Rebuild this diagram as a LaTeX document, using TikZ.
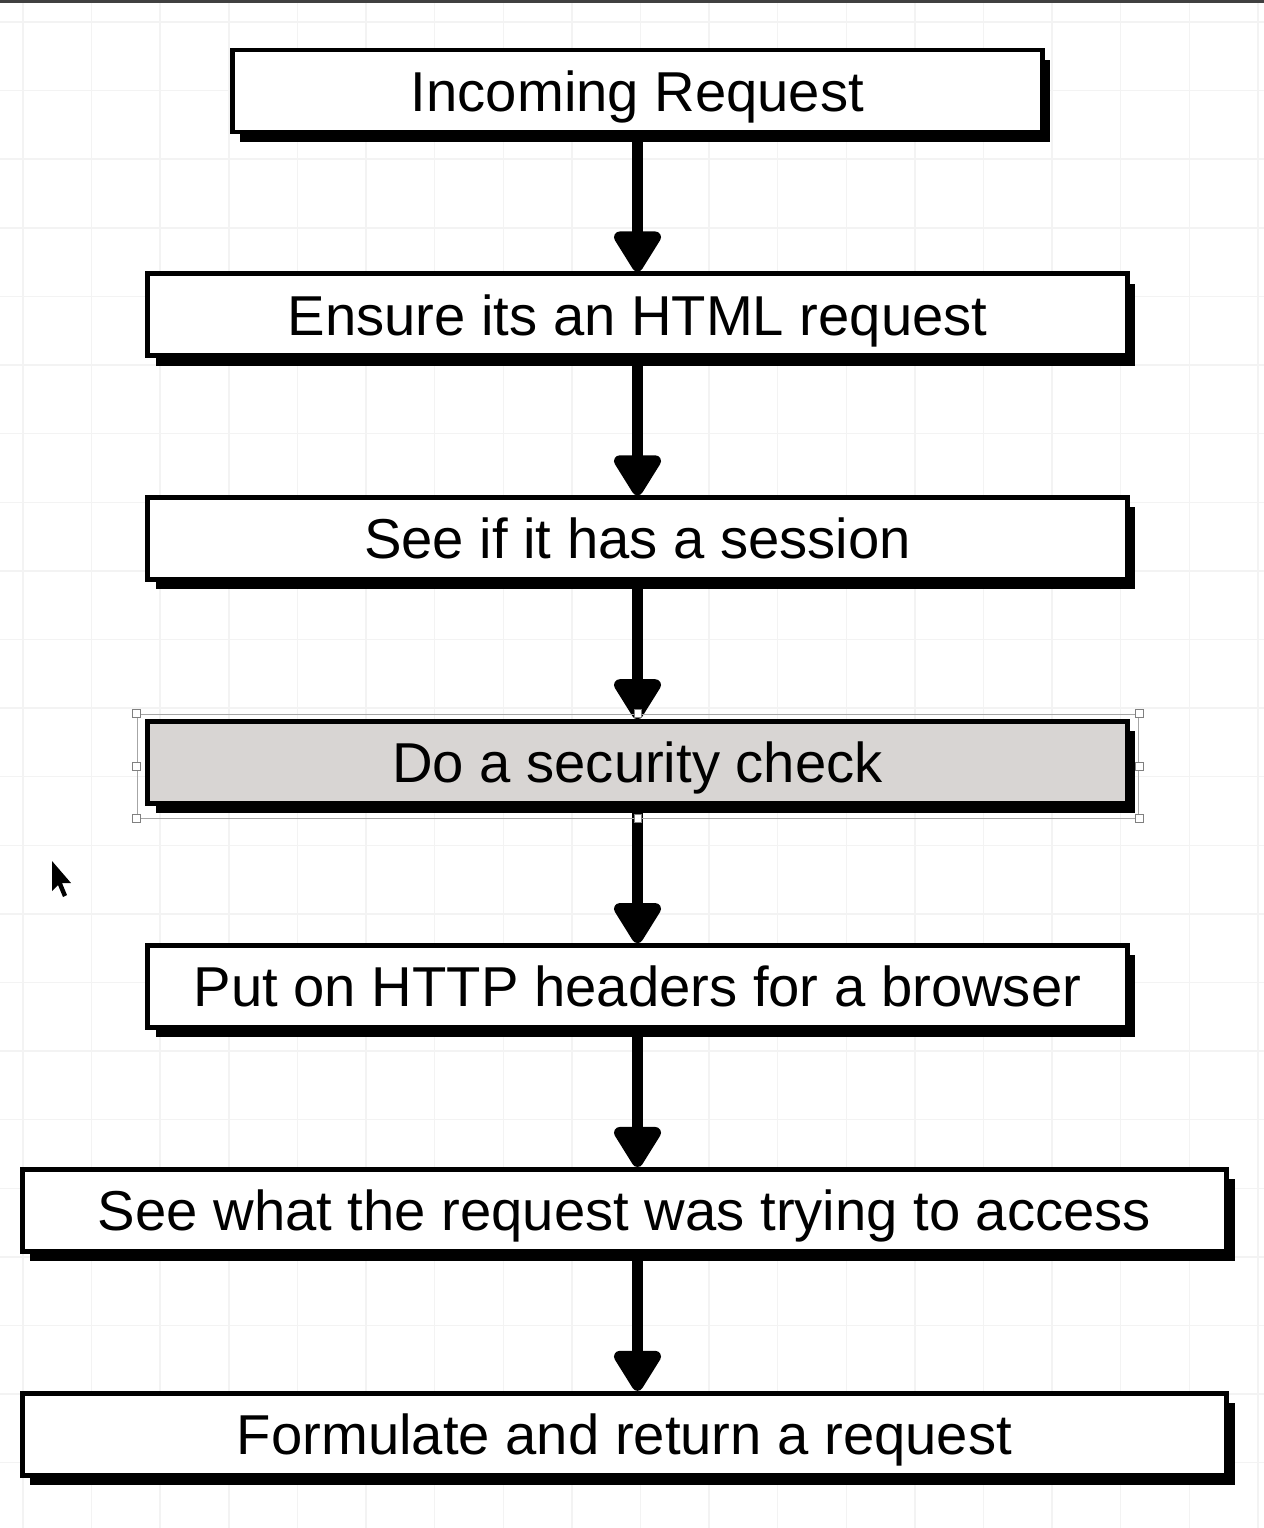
\documentclass[tikz,border=0pt]{standalone}
\usepackage{fontspec}
\setmainfont{Liberation Sans}
\usetikzlibrary{positioning,shadows,arrows.meta,calc,fit}

\definecolor{checkgray}{RGB}{216,213,211}
\definecolor{gridline}{RGB}{243,243,243}

\tikzstyle{stage}=[draw=black, line width=2.8pt, fill=white, minimum height=1.64cm, inner sep=0pt,
  font=\fontsize{32}{38}\selectfont, text height=23pt, text depth=0pt,
  drop shadow={shadow xshift=4.5pt, shadow yshift=-5.5pt, opacity=1, fill=black}]
\tikzstyle{selected}=[fill=checkgray]
\tikzstyle{flow}=[line width=6.5pt, -{Triangle[width=30pt,length=26pt,round]}]
\tikzstyle{handle}=[draw=gray, fill=white, line width=0.6pt, minimum size=4.5pt, inner sep=0pt]

\begin{document}
\begin{tikzpicture}[x=0.02cm, y=-0.02cm, node distance=2.74cm]
\useasboundingbox (0,0) rectangle (1264,1528);
\fill[white] (0,0) rectangle (1264,1528);

% faint canvas grid
\foreach \gx in {0,...,18} \draw[gridline, line width=0.8pt] ({23+68.6*\gx},0) -- ({23+68.6*\gx},1528);
\foreach \gy in {0,...,21} \draw[gridline, line width=0.8pt] (0,{22+68.6*\gy}) -- (1264,{22+68.6*\gy});
\draw[black!75, line width=2pt] (0,1) -- (1264,1);

% the request pipeline
\node [stage, minimum width=16.2cm] (incoming) at (637.5,91) {Incoming Request};
\node [stage, minimum width=19.6cm, below=of incoming] (html) {Ensure its an HTML request};
\node [stage, minimum width=19.6cm, below=of html] (session) {See if it has a session};
\node [stage, selected, minimum width=19.6cm, below=of session] (security) {Do a security check};
\node [stage, minimum width=19.6cm, below=of security] (headers) {Put on HTTP headers for a browser};
\node [stage, minimum width=24.1cm, below=of headers, xshift=-0.26cm] (access) {See what the request was trying to access};
\node [stage, minimum width=24.1cm, below=of access] (formulate) {Formulate and return a request};

\draw [flow] (incoming.south) -- (html.north);
\draw [flow] (html.south) -- (session.north);
\draw [flow] (session.south) -- (security.north);
\draw [flow] (security.south) -- (headers.north);
\draw [flow] (headers.south) -- (headers.south |- access.north);
\draw [flow] (headers.south |- access.south) -- (headers.south |- formulate.north);

% selection frame on the security step
\coordinate (selnw) at ($(security.north west)+(-8,-5)$);
\coordinate (selse) at ($(security.south east)+(9,12)$);
\node [fit=(selnw) (selse), inner sep=0pt, draw=gray!70, line width=0.5pt] (selframe) {};
\foreach \anc in {north west,north,north east,east,south east,south,south west,west}
  \node [handle] at (selframe.\anc) {};

% mouse pointer
\fill[black] (52,861) -- (52,891) -- (58,885) -- (63,897) -- (67,895) -- (62,883) -- (71,883) -- cycle;
\end{tikzpicture}
\end{document}
